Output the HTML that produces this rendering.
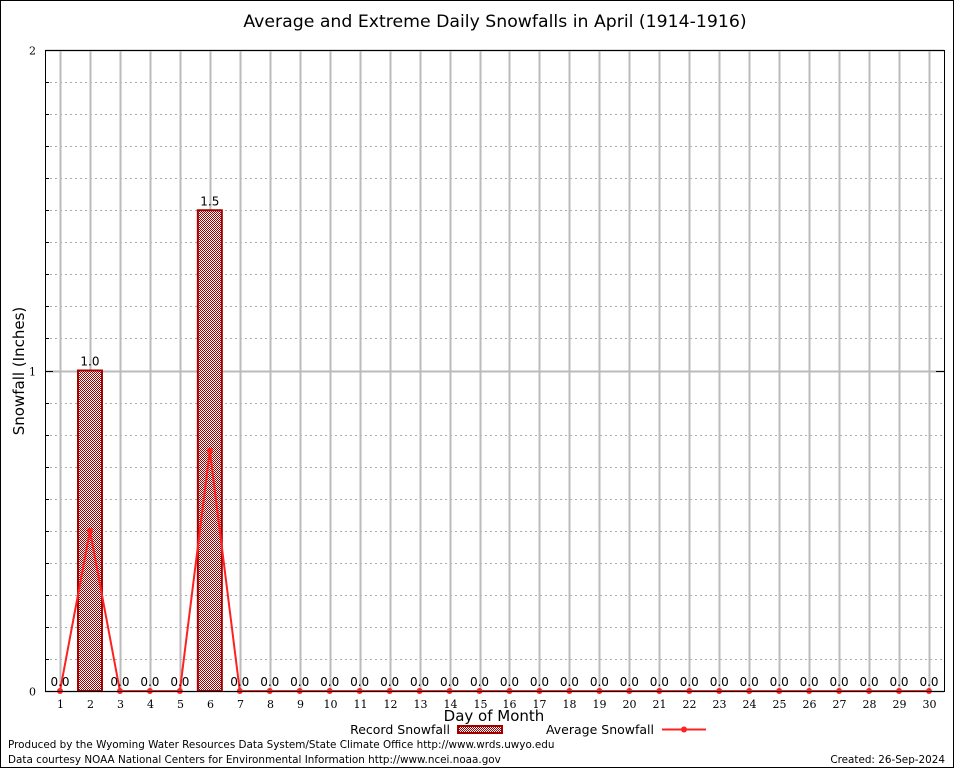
<!DOCTYPE html>
<html><head><meta charset="utf-8"><style>
html,body{margin:0;padding:0;background:#fff}
svg{display:block}
text{font-family:"DejaVu Sans","Liberation Sans",sans-serif}
.tk{font-family:"DejaVu Serif","Liberation Serif",serif;font-size:11px}
</style></head><body>
<svg id="chart" width="954" height="768" xmlns="http://www.w3.org/2000/svg">
<defs>
<pattern id="hatch" width="2" height="2" patternUnits="userSpaceOnUse">
<rect width="2" height="2" fill="#fff"/>
<rect x="0" y="0" width="1" height="1" fill="#a00000"/>
<rect x="1" y="1" width="1" height="1" fill="#a00000"/>
</pattern>
</defs>
<rect x="0.5" y="0.5" width="953" height="767" fill="#fff" stroke="#000"/>
<text x="495" y="27" text-anchor="middle" font-size="17.3">Average and Extreme Daily Snowfalls in April (1914-1916)</text>
<g id="grid"></g>
<g id="bars"></g>
<g id="line"></g>
<g id="labels"></g>
<rect x="45.5" y="50.5" width="899" height="641" fill="none" stroke="#000"/>
<g id="axes"></g>
<text transform="translate(24,371) rotate(-90)" text-anchor="middle" font-size="15">Snowfall (Inches)</text>
<text x="494" y="721" text-anchor="middle" font-size="15">Day of Month</text>
<g>
<text x="450" y="734" text-anchor="end" font-size="12.5">Record Snowfall</text>
<rect x="458" y="726" width="44" height="7" fill="url(#hatch)" stroke="#a00000" stroke-width="2"/>
<text x="654" y="734" text-anchor="end" font-size="12.5">Average Snowfall</text>
<line x1="662" y1="729.5" x2="706" y2="729.5" stroke="#ff2020" stroke-width="2"/>
<circle cx="684" cy="729.5" r="3" fill="#ff2020"/>
</g>
<text x="8" y="748" font-size="10.4">Produced by the Wyoming Water Resources Data System/State Climate Office http://www.wrds.uwyo.edu</text>
<text x="8" y="763" font-size="10.4">Data courtesy NOAA National Centers for Environmental Information http://www.ncei.noaa.gov</text>
<text x="945" y="763" text-anchor="end" font-size="10.4">Created:  26-Sep-2024</text>
</svg>
<script>
const days = [1,2,3,4,5,6,7,8,9,10,11,12,13,14,15,16,17,18,19,20,21,22,23,24,25,26,27,28,29,30];
const recordSnow = [0,1.0,0,0,0,1.5,0,0,0,0,0,0,0,0,0,0,0,0,0,0,0,0,0,0,0,0,0,0,0,0];
const avgSnow = [0,0.5,0,0,0,0.75,0,0,0,0,0,0,0,0,0,0,0,0,0,0,0,0,0,0,0,0,0,0,0,0];
const yTicks = [0,1,2];
const yMinor = [0.1,0.2,0.3,0.4,0.5,0.6,0.7,0.8,0.9,1.1,1.2,1.3,1.4,1.5,1.6,1.7,1.8,1.9];

const NS="http://www.w3.org/2000/svg";
const X0=45,X1=944,Y0=691,Y1=50,YMAX=2;
function xs(d){return 60+(d-1)*(X1-X0-30)/29;}
function ys(v){return Y0-(v/YMAX)*(Y0-Y1);}
function mk(tag,attrs,parent,txt){const e=document.createElementNS(NS,tag);for(const k in attrs)e.setAttribute(k,attrs[k]);if(txt!==undefined)e.textContent=txt;parent.appendChild(e);return e;}
const grid=document.getElementById('grid'),bars=document.getElementById('bars'),line=document.getElementById('line'),labels=document.getElementById('labels'),axes=document.getElementById('axes');

yMinor.forEach(v=>{const y=Math.round(ys(v))+0.5;
 const l=mk('line',{x1:X0,x2:X1,y1:y,y2:y,stroke:'#aaa','stroke-dasharray':'2,3'},grid);
 
 });
yTicks.forEach(v=>{const y=Math.round(ys(v))+0.5;
 const l=mk('line',{x1:X0,x2:X1,y1:y,y2:y,stroke:'#bbb','stroke-width':2},grid);
 
 
 const t=mk('line',{x1:X0,x2:X0+8,y1:y,y2:y,stroke:'#000'},axes);
 
 
 const t2=mk('line',{x1:X1-8,x2:X1,y1:y,y2:y,stroke:'#000'},axes);
 
 
 const tx=mk('text',{x:36,y:y+4,'text-anchor':'end','class':'tk'},axes,String(v));
 
 });
yMinor.forEach(v=>{const y=Math.round(ys(v))+0.5;
 const t=mk('line',{x1:X0,x2:X0+4,y1:y,y2:y,stroke:'#000'},axes);
 
 });
days.forEach(d=>{const x=Math.round(xs(d))+0.5;
 const l=mk('line',{x1:x,x2:x,y1:Y1,y2:Y0,stroke:'#bbb','stroke-width':2},grid);
 
 
 const tx=mk('text',{x:x,y:708,'text-anchor':'middle','class':'tk'},axes,String(d));
 
 });
const bw=24;
days.forEach((d,i)=>{const v=recordSnow[i];const x=xs(d);
 if(v>0){const r=mk('rect',{x:x-bw/2,y:ys(v),width:bw,height:Y0-ys(v),fill:'url(#hatch)',stroke:'#a00000','stroke-width':2},bars);
  
  }
 const t=mk('text',{x:x,y:ys(v)-5,'text-anchor':'middle','font-size':12},labels,v.toFixed(1));
 
 });
const pts=days.map((d,i)=>xs(d)+','+ys(avgSnow[i])).join(' ');
const pl=mk('polyline',{points:pts,fill:'none',stroke:'#ff2020','stroke-width':2},line);


days.forEach((d,i)=>{const c=mk('circle',{cx:xs(d),cy:ys(avgSnow[i]),r:3,fill:'#ff2020'},line);
 
 });
</script>
</body></html>
